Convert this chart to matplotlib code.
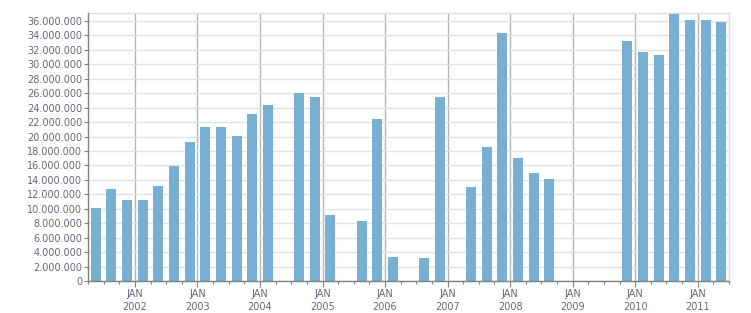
#!/usr/bin/env python3
"""Quarterly bar chart, Q2 2001 .. Q2 2011, with JAN/year labels."""

import matplotlib

matplotlib.use("Agg")

import matplotlib.pyplot as plt
import numpy as np
from matplotlib.ticker import FuncFormatter, MultipleLocator

# Quarters from Q2 2001 through Q2 2011 (41 quarters); zero = no bar.
QUARTERS = [f"{y}Q{q}" for y in range(2001, 2012) for q in range(1, 5)][1:42]
VALUES = [
    10.1, 12.7, 11.2, 11.2, 13.15, 15.9, 19.25, 21.3, 21.3, 20.1, 23.1,   # Q2'01..Q4'03
    24.4, 0.0, 26.0, 25.5,                                                # 2004
    9.15, 0.0, 8.3, 22.4,                                                 # 2005
    3.3, 0.0, 3.2, 25.5,                                                  # 2006
    0.0, 13.0, 18.55, 34.3,                                               # 2007
    17.0, 14.95, 14.1, 0.0,                                               # 2008
    0.0, 0.0, 0.0, 33.2,                                                  # 2009
    31.7, 31.3, 37.0, 36.1,                                               # 2010
    36.1, 35.85,                                                          # 2011
]
VALUES = [v * 1e6 for v in VALUES]
YEARS = list(range(2002, 2012))

BAR = "#77b0d3"
TEXT = "#66667a"


def quarter_pos(label: str) -> int:
    year, q = int(label[:4]), int(label[-1])
    return (year - 2001) * 4 + (q - 1) - 1  # Q2 2001 -> 0


fig = plt.figure(figsize=(7.51, 3.13), dpi=100, facecolor="white")
ax = fig.add_axes([88 / 751, 32 / 313, 641 / 751, 268 / 313])

x = np.array([quarter_pos(q) for q in QUARTERS]) + 0.5
ax.bar(x, VALUES, width=0.64, color=BAR, zorder=3)

ax.set_xlim(0, len(QUARTERS))
ax.set_ylim(0, 37.1e6)

# y axis
ax.yaxis.set_major_locator(MultipleLocator(2e6))
ax.yaxis.set_major_formatter(
    FuncFormatter(lambda v, _: f"{int(round(v)):,}".replace(",", "."))
)
ax.tick_params(axis="y", length=3, width=0.8, color="#808080",
               labelsize=7, labelcolor=TEXT, pad=1)

# x axis: JAN ticks major, quarter ticks minor
jan_pos = [(y - 2001) * 4 - 1 for y in YEARS]
ax.set_xticks(jan_pos)
ax.set_xticklabels([f"JAN\n{y}" for y in YEARS], linespacing=1.35)
ax.set_xticks(np.arange(0, len(QUARTERS) + 1), minor=True)
ax.tick_params(axis="x", which="major", length=4, width=0.8, color="#808080",
               labelsize=7, labelcolor=TEXT, pad=2)
ax.tick_params(axis="x", which="minor", length=2.5, width=0.8, color="#808080")

# grid
ax.grid(axis="y", color="#e2e2e2", lw=1.0, zorder=0)
for p in jan_pos:
    ax.axvline(p, color="#b4b4b4", lw=1.0, zorder=1)

for side in ("top", "right"):
    ax.spines[side].set_color("#dcdcdc")
    ax.spines[side].set_linewidth(1.0)
for side in ("left", "bottom"):
    ax.spines[side].set_color("#808080")
    ax.spines[side].set_linewidth(1.0)
    ax.spines[side].set_zorder(4)

fig.savefig("out.png", dpi=100, facecolor="white")
